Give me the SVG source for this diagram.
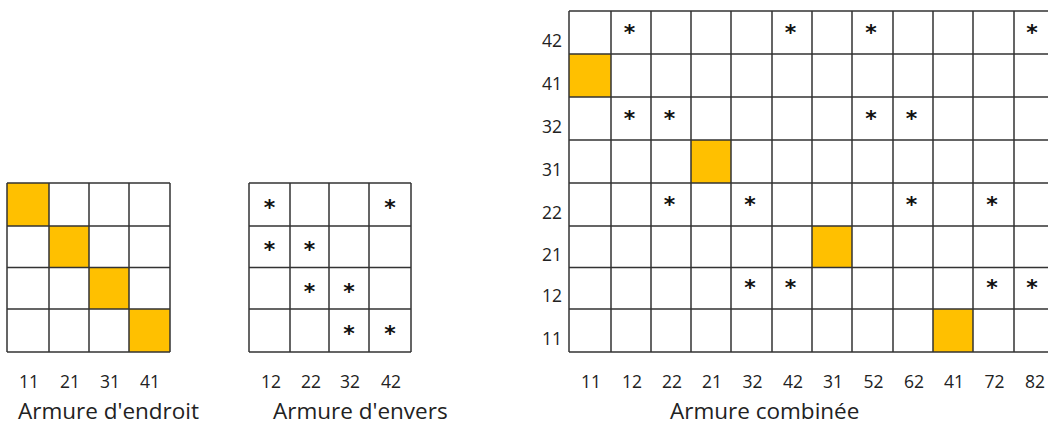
<svg xmlns="http://www.w3.org/2000/svg" width="1048" height="425" viewBox="0 0 1048 425">
<style>
.g{stroke:#333;stroke-width:1.5;fill:none}
.o{fill:#FFC000}
.n{font-family:"Open Sans","Liberation Sans",sans-serif;font-size:17.5px;fill:#222;text-anchor:middle}
.r{font-family:"Open Sans","Liberation Sans",sans-serif;font-size:17.5px;fill:#222;text-anchor:end}
.t{font-family:"Open Sans","Liberation Sans",sans-serif;font-size:22.5px;fill:#222}
.s{font-family:"DejaVu Sans",sans-serif;font-weight:bold;font-size:22px;fill:#111;text-anchor:middle}
</style>
<rect width="1048" height="425" fill="#fff"/>
<g id="endroit">
<rect class="o" x="7" y="183" width="42" height="43"/>
<rect class="o" x="49" y="226" width="40" height="41.5"/>
<rect class="o" x="89" y="267.5" width="40" height="41.5"/>
<rect class="o" x="129" y="309" width="41" height="43"/>
<path class="g" d="M7 183V352M49 183V352M89 183V352M129 183V352M170 183V352M7 183H170M7 226H170M7 267.5H170M7 309H170M7 352H170"/>
<text class="n" x="29" y="388">11</text>
<text class="n" x="70" y="388">21</text>
<text class="n" x="110" y="388">31</text>
<text class="n" x="150" y="388">41</text>
<text class="t" x="18" y="419">Armure d'endroit</text>
</g>
<g id="envers">
<path class="g" d="M249 183V352M290 183V352M329 183V352M369 183V352M411 183V352M249 183H411M249 226H411M249 267.5H411M249 309H411M249 352H411"/>
<text class="s" x="269.5" y="215">*</text>
<text class="s" x="390" y="215">*</text>
<text class="s" x="269.5" y="257">*</text>
<text class="s" x="309.5" y="257">*</text>
<text class="s" x="309.5" y="298.5">*</text>
<text class="s" x="349" y="298.5">*</text>
<text class="s" x="349" y="340.5">*</text>
<text class="s" x="390" y="340.5">*</text>
<text class="n" x="271" y="388">12</text>
<text class="n" x="311" y="388">22</text>
<text class="n" x="350" y="388">32</text>
<text class="n" x="391" y="388">42</text>
<text class="t" x="273" y="419">Armure d'envers</text>
</g>
<g id="combinee">
<rect class="o" x="569" y="54" width="42" height="43"/>
<rect class="o" x="691" y="140" width="40" height="43"/>
<rect class="o" x="812" y="226" width="40" height="41.5"/>
<rect class="o" x="933" y="309" width="40" height="43"/>
<path class="g" d="M569 11V352M611 11V352M651 11V352M691 11V352M731 11V352M772 11V352M812 11V352M852 11V352M893 11V352M933 11V352M973 11V352M1014 11V352M1055 11V352M569 11H1055M569 54H1055M569 97H1055M569 140H1055M569 183H1055M569 226H1055M569 267.5H1055M569 309H1055M569 352H1055"/>
<text class="s" x="629.5" y="40">*</text>
<text class="s" x="790.5" y="40">*</text>
<text class="s" x="871" y="40">*</text>
<text class="s" x="1032" y="40">*</text>
<text class="s" x="629.5" y="126">*</text>
<text class="s" x="669.5" y="126">*</text>
<text class="s" x="871" y="126">*</text>
<text class="s" x="911.5" y="126">*</text>
<text class="s" x="669.5" y="212">*</text>
<text class="s" x="750" y="212">*</text>
<text class="s" x="911.5" y="212">*</text>
<text class="s" x="992" y="212">*</text>
<text class="s" x="750" y="295">*</text>
<text class="s" x="790.5" y="295">*</text>
<text class="s" x="992" y="295">*</text>
<text class="s" x="1032" y="295">*</text>
<text class="r" x="562" y="47">42</text>
<text class="r" x="562" y="90">41</text>
<text class="r" x="562" y="133">32</text>
<text class="r" x="562" y="176">31</text>
<text class="r" x="562" y="219">22</text>
<text class="r" x="562" y="260.5">21</text>
<text class="r" x="562" y="302">12</text>
<text class="r" x="562" y="345">11</text>
<text class="n" x="591" y="388">11</text>
<text class="n" x="632" y="388">12</text>
<text class="n" x="672" y="388">22</text>
<text class="n" x="712" y="388">21</text>
<text class="n" x="752.5" y="388">32</text>
<text class="n" x="793" y="388">42</text>
<text class="n" x="833" y="388">31</text>
<text class="n" x="873.5" y="388">52</text>
<text class="n" x="914" y="388">62</text>
<text class="n" x="954" y="388">41</text>
<text class="n" x="994.5" y="388">72</text>
<text class="n" x="1035" y="388">82</text>
<text class="t" x="670" y="419">Armure combinée</text>
</g>
</svg>
